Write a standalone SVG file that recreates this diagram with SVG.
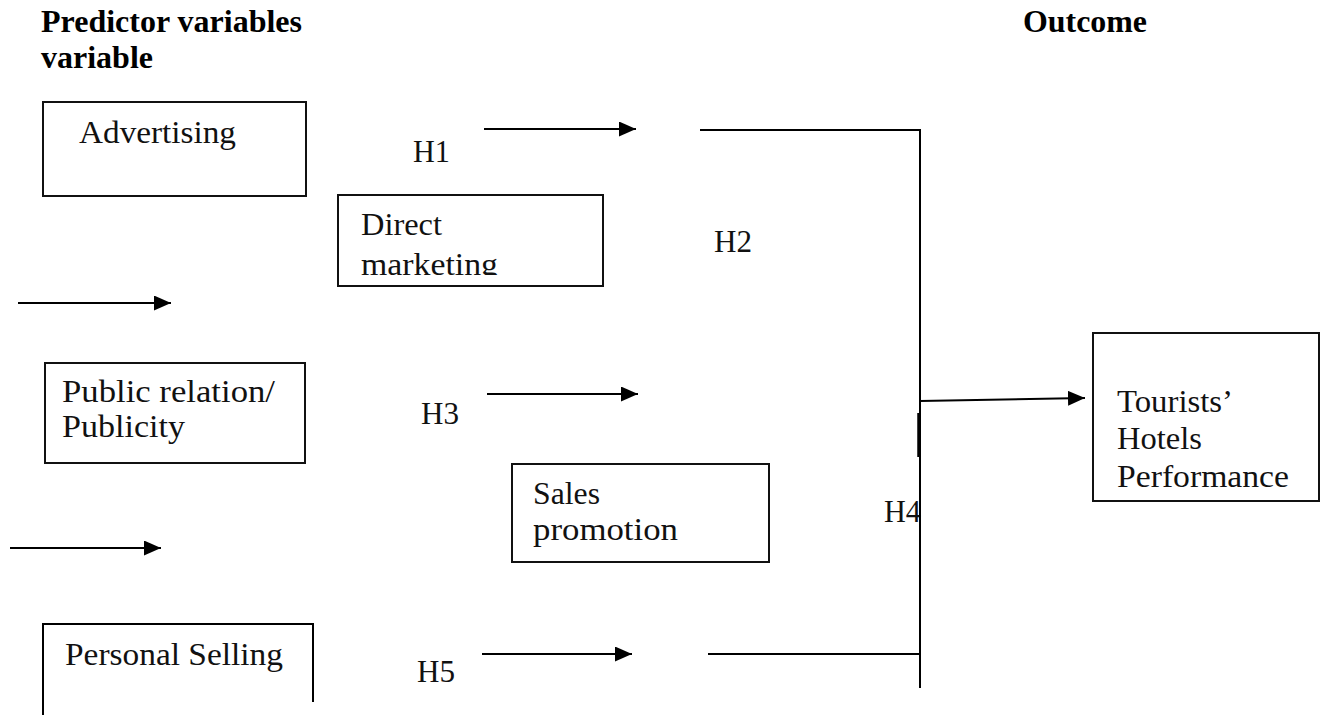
<svg xmlns="http://www.w3.org/2000/svg" width="1324" height="715" viewBox="0 0 1324 715">
<style>
.head{font-family:"Liberation Serif",serif;font-weight:bold;font-size:32px;fill:#000}
.lbl{font-family:"Liberation Serif","DejaVu Serif",serif;font-size:31px;fill:#111}
.box{fill:#fff;stroke:#111;stroke-width:2}
.ln{stroke:#000;stroke-width:2;fill:none}
</style>
<defs>
<marker id="ahL" viewBox="0 0 10 10" refX="10" refY="5" markerWidth="17" markerHeight="15" markerUnits="userSpaceOnUse" orient="auto" preserveAspectRatio="none">
<path d="M0,0 L10,5 L0,10 z" fill="#000"/>
</marker>
<clipPath id="dmclip"><rect x="338" y="195" width="265" height="80"/></clipPath>
</defs>
<rect width="1324" height="715" fill="#fff"/>

<g id="headings">
<text class="head" x="41" y="32" textLength="261" lengthAdjust="spacingAndGlyphs">Predictor variables</text>
<text class="head" x="41" y="68" textLength="112" lengthAdjust="spacingAndGlyphs">variable</text>
<text class="head" x="1023" y="32" textLength="124" lengthAdjust="spacingAndGlyphs">Outcome</text>
</g>

<g id="advertising">
<rect class="box" x="43" y="102" width="263" height="94"/>
<text class="lbl" x="79" y="143" textLength="157" lengthAdjust="spacingAndGlyphs">Advertising</text>
</g>

<g id="direct-marketing">
<rect class="box" x="338" y="195" width="265" height="91"/>
<g clip-path="url(#dmclip)">
<text class="lbl" x="361" y="235" textLength="81" lengthAdjust="spacingAndGlyphs">Direct</text>
<text class="lbl" x="361" y="275" textLength="137" lengthAdjust="spacingAndGlyphs">marketing</text>
</g>
</g>

<g id="public-relation">
<rect class="box" x="45" y="363" width="260" height="100"/>
<text class="lbl" x="62" y="402" textLength="213" lengthAdjust="spacingAndGlyphs">Public relation/</text>
<text class="lbl" x="62" y="437" textLength="123" lengthAdjust="spacingAndGlyphs">Publicity</text>
</g>

<g id="sales-promotion">
<rect class="box" x="512" y="464" width="257" height="98"/>
<text class="lbl" x="533" y="504" textLength="67" lengthAdjust="spacingAndGlyphs">Sales</text>
<text class="lbl" x="533" y="540" textLength="145" lengthAdjust="spacingAndGlyphs">promotion</text>
</g>

<g id="personal-selling">
<path class="ln" d="M43,715 V624 H313 V702"/>
<text class="lbl" x="65" y="665" textLength="218" lengthAdjust="spacingAndGlyphs">Personal Selling</text>
</g>

<g id="outcome">
<rect class="box" x="1093" y="333" width="226" height="168"/>
<text class="lbl" x="1117" y="412" textLength="116" lengthAdjust="spacingAndGlyphs">Tourists’</text>
<text class="lbl" x="1117" y="449" textLength="85" lengthAdjust="spacingAndGlyphs">Hotels</text>
<text class="lbl" x="1117" y="487" textLength="172" lengthAdjust="spacingAndGlyphs">Performance</text>
</g>

<g id="hypothesis-labels">
<text class="lbl" x="413" y="162" textLength="37" lengthAdjust="spacingAndGlyphs">H1</text>
<text class="lbl" x="714" y="252" textLength="38" lengthAdjust="spacingAndGlyphs">H2</text>
<text class="lbl" x="421" y="424" textLength="38" lengthAdjust="spacingAndGlyphs">H3</text>
<text class="lbl" x="884" y="522" textLength="37" lengthAdjust="spacingAndGlyphs">H4</text>
<text class="lbl" x="417" y="682" textLength="38" lengthAdjust="spacingAndGlyphs">H5</text>
</g>

<g id="connectors">
<line class="ln" x1="484" y1="129" x2="636" y2="129" marker-end="url(#ahL)"/>
<path class="ln" d="M700,130 H920 V688"/>
<line class="ln" x1="18" y1="303" x2="171" y2="303" marker-end="url(#ahL)"/>
<line class="ln" x1="487" y1="394" x2="638" y2="394" marker-end="url(#ahL)"/>
<line class="ln" x1="10" y1="548" x2="161" y2="548" marker-end="url(#ahL)"/>
<line class="ln" x1="482" y1="654" x2="632" y2="654" marker-end="url(#ahL)"/>
<line class="ln" x1="708" y1="654" x2="920" y2="654"/>
<line class="ln" x1="920" y1="401" x2="1085" y2="398" marker-end="url(#ahL)"/>
<line x1="919" y1="413" x2="919" y2="457" stroke="#000" stroke-width="3.5"/>
</g>
</svg>
